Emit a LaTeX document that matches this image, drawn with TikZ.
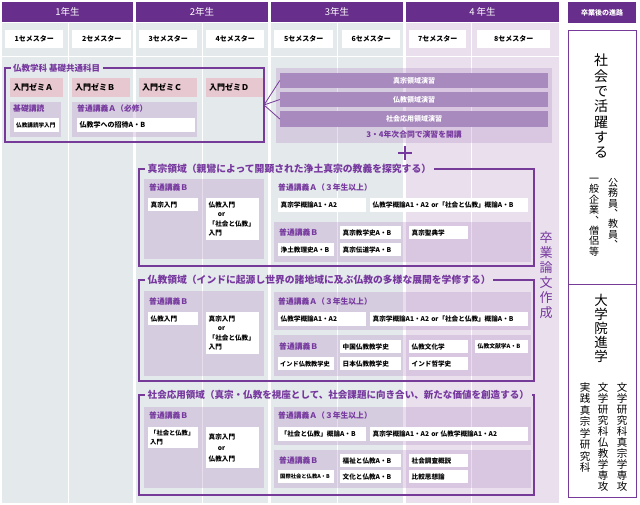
\documentclass[tikz,border=0pt]{standalone}
\usepackage{fontspec}
\setmainfont{Noto Sans CJK JP}
\definecolor{hdr}{RGB}{104,46,140}
\definecolor{lin}{RGB}{118,58,152}
\definecolor{lbc}{RGB}{118,56,158}
\definecolor{grybg}{RGB}{228,233,236}
\definecolor{pplbg}{RGB}{233,223,237}
\definecolor{pnc}{RGB}{181,143,196}
\definecolor{pnk}{RGB}{232,200,208}
\definecolor{barc}{RGB}{168,138,190}

\begin{document}
\begin{tikzpicture}[x=1pt,y=-1pt]

\tikzstyle{yr}=[fill=hdr, text=white, minimum height=20pt, inner sep=0pt, font=\fontsize{9.5}{9.5}\selectfont]
\tikzstyle{sem}=[fill=white, anchor=north west, minimum height=18pt, inner sep=0pt, font=\fontsize{7}{7}\selectfont\bfseries]
\tikzstyle{cell}=[fill=white, anchor=north west, inner xsep=2.5pt, inner ysep=0pt, align=left, font=\fontsize{6.6}{8}\selectfont\bfseries]
\tikzstyle{zemi}=[cell, fill=pnk, inner xsep=3pt, minimum height=19pt, font=\fontsize{8}{9}\selectfont\bfseries]
\tikzstyle{lbl}=[anchor=west, inner sep=0pt, text=lbc, font=\fontsize{7.8}{8}\selectfont\bfseries]
\tikzstyle{ttl}=[anchor=west, inner xsep=2.5pt, inner ysep=0pt, text=lbc, font=\fontsize{9.8}{10}\selectfont\bfseries]
\tikzstyle{pnl}=[fill=pnc, fill opacity=0.3]
\tikzstyle{ol}=[draw=lin, line width=1.1pt]
\tikzstyle{barn}=[fill=barc, text=white, minimum width=268pt, inner sep=0pt, font=\fontsize{7}{7}\selectfont\bfseries]
\tikzstyle{vt}=[anchor=north, align=center, inner sep=0pt]

\useasboundingbox (0,0) rectangle (640,505);

\fill[grybg] (2,23) rectangle (133,503);
\fill[grybg] (136,23) rectangle (268,503);
\fill[grybg] (271,23) rectangle (403,503);
\fill[pplbg] (406,23) rectangle (559,503);
\foreach \x in {68,202,337,471}
  \draw[white, line width=1pt] (\x,23) -- (\x,503);
\draw[white, line width=1pt] (2,57) -- (559,57);

\node (y1) [yr, minimum width=131pt] at (67.5,12) {1年生};
\node (y2) [yr, minimum width=132pt] at (202,12) {2年生};
\node (y3) [yr, minimum width=132pt] at (337,12) {3年生};
\node (y4) [yr, minimum width=153pt] at (482.5,12) {4 年生};
\node (post) [yr, minimum width=68pt, minimum height=21pt, font=\fontsize{7}{7}\selectfont\bfseries] at (602,12.5) {卒業後の進路};

\foreach \i/\x/\w in {1/5/58,2/72/59,3/139/58,4/206/58,5/274/59,6/342/58,7/409/57,8/477/73}
  \node (s\i) [sem, minimum width=\w pt] at (\x,30) {\i セメスター};

\node (fbt) [ttl, font=\fontsize{8.5}{8.5}\selectfont\bfseries] at (10.5,68) {仏教学科 基礎共通科目};
\draw[ol] (fbt.west) -- (5,68) -- (5,142) -- (264,142) -- (264,68) -- (fbt.east);
\coordinate (fbR) at (264,105);

\node (zA) [zemi, text width=47pt] at (10,78) {入門ゼミＡ};
\node (zB) [zemi, text width=52pt] at (72,78) {入門ゼミＢ};
\node (zC) [zemi, text width=52pt] at (139,78) {入門ゼミＣ};
\node (zD) [zemi, text width=51pt] at (206,78) {入門ゼミＤ};

\fill[pnl] (10,102) rectangle (61,137);
\fill[pnl] (72,102) rectangle (197,137);
\node (kd) [lbl] at (13,109) {基礎講読};
\node (pa) [lbl] at (77,109) {普通講義Ａ（必修）};
\node (kd1) [cell, text width=41pt, minimum height=14pt, inner xsep=2pt, font=\fontsize{5.6}{6}\selectfont\bfseries] at (14,118) {仏教講読学入門};
\node (pa1) [cell, text width=113pt, minimum height=14pt, font=\fontsize{7}{8}\selectfont\bfseries] at (77,118) {仏教学への招待A・B};

\fill[pnl] (276,68) rectangle (552,143);
\node (b1) [barn, minimum height=15pt] at (414,80.5) {真宗領域演習};
\node (b2) [barn, minimum height=15pt] at (414,99.5) {仏教領域演習};
\node (b3) [barn, minimum height=16pt] at (414,119) {社会応用領域演習};
\node (jnt) [inner sep=0pt, text=lbc, font=\fontsize{7.8}{8}\selectfont\bfseries] at (414,135) {3・4年次合同で演習を開講};
\draw[draw=lin, line width=0.8pt] (b1.west) -- (fbR);
\draw[draw=lin, line width=0.8pt] (b2.west) -- (fbR);
\draw[draw=lin, line width=0.8pt] (b3.west) -- (fbR);

\draw[lbc, line width=2.6pt] (405,146) -- (405,160) (398,153) -- (412,153);

\node (d1t) [ttl] at (145,169) {真宗領域（親鸞によって開顕された浄土真宗の教義を探究する）};
\draw[ol] (d1t.west) -- (139,169) -- (139,266) -- (534,266) -- (534,169) -- (d1t.east);
\fill[pnl] (144,179) rectangle (264,259);
\fill[pnl] (274,222) rectangle (531,262);
\node (d1b) [lbl] at (149,188) {普通講義Ｂ};
\node (d1a) [lbl] at (278,188) {普通講義Ａ（３年生以上）};
\node (d1bb) [lbl] at (279,233) {普通講義Ｂ};
\node (d1c1) [cell, text width=45pt, minimum height=13pt] at (148,198) {真宗入門};
\node (d1c2) [cell, text width=48pt, minimum height=42pt, font=\fontsize{6.6}{9.5}\selectfont\bfseries] at (206,198) {仏教入門\\\hspace{1.4em}or\\「社会と仏教」\\入門};
\node (d1c3) [cell, text width=83pt, minimum height=14pt] at (278,198) {真宗学概論A1・A2};
\node (d1c4) [cell, text width=153pt, minimum height=14pt] at (370,198) {仏教学概論A1・A2~or「社会と仏教」概論A・B};
\node (d1c5) [cell, text width=56pt, minimum height=13pt] at (340,226) {真宗教学史A・B};
\node (d1c6) [cell, text width=54pt, minimum height=13pt] at (409,226) {真宗聖典学};
\node (d1c7) [cell, text width=51pt, minimum height=13pt] at (278,243) {浄土教理史A・B};
\node (d1c8) [cell, text width=56pt, minimum height=13pt] at (340,243) {真宗伝道学A・B};

\node (d2t) [ttl] at (145,280) {仏教領域（インドに起源し世界の諸地域に及ぶ仏教の多様な展開を学修する）};
\draw[ol] (d2t.west) -- (139,280) -- (139,381) -- (534,381) -- (534,280) -- (d2t.east);
\fill[pnl] (144,291) rectangle (264,376);
\fill[pnl] (274,292) rectangle (531,330);
\fill[pnl] (274,335) rectangle (531,376);
\node (d2b) [lbl] at (149,302) {普通講義Ｂ};
\node (d2a) [lbl] at (278,302) {普通講義Ａ（３年生以上）};
\node (d2bb) [lbl] at (279,347) {普通講義Ｂ};
\node (d2c1) [cell, text width=45pt, minimum height=13pt] at (148,312) {仏教入門};
\node (d2c2) [cell, text width=48pt, minimum height=42pt, font=\fontsize{6.6}{9.5}\selectfont\bfseries] at (206,312) {真宗入門\\\hspace{1.4em}or\\「社会と仏教」\\入門};
\node (d2c3) [cell, text width=83pt, minimum height=14pt] at (278,312) {仏教学概論A1・A2};
\node (d2c4) [cell, text width=153pt, minimum height=14pt] at (370,312) {真宗学概論A1・A2~or「社会と仏教」概論A・B};
\node (d2c5) [cell, text width=56pt, minimum height=13pt] at (340,340) {中国仏教教学史};
\node (d2c6) [cell, text width=54pt, minimum height=13pt] at (409,340) {仏教文化学};
\node (d2c7) [cell, text width=48pt, minimum height=13pt, font=\fontsize{5.8}{7}\selectfont\bfseries] at (475,340) {仏教文献学A・B};
\node (d2c8) [cell, text width=52pt, minimum height=13pt, inner xsep=2pt, font=\fontsize{6.2}{7}\selectfont\bfseries] at (278,357) {インド仏教教学史};
\node (d2c9) [cell, text width=56pt, minimum height=13pt] at (340,357) {日本仏教教学史};
\node (d2c10) [cell, text width=54pt, minimum height=13pt] at (409,357) {インド哲学史};

\node (d3t) [ttl, font=\fontsize{9.55}{10}\selectfont\bfseries] at (145,395) {社会応用領域（真宗・仏教を視座として、社会課題に向き合い、新たな価値を創造する）};
\draw[ol] (d3t.west) -- (139,395) -- (139,495) -- (534,495) -- (534,395) -- (d3t.east);
\fill[pnl] (144,407) rectangle (264,488);
\fill[pnl] (274,407) rectangle (531,445);
\fill[pnl] (274,450) rectangle (531,488);
\node (d3b) [lbl] at (149,416) {普通講義Ｂ};
\node (d3a) [lbl] at (278,416) {普通講義Ａ（３年生以上）};
\node (d3bb) [lbl] at (279,461) {普通講義Ｂ};
\node (d3c1) [cell, text width=46pt, minimum height=21pt, inner xsep=2pt, font=\fontsize{6.3}{8.5}\selectfont\bfseries] at (148,427) {「社会と仏教」\\入門};
\node (d3c2) [cell, text width=48pt, minimum height=41pt, font=\fontsize{6.6}{11}\selectfont\bfseries] at (206,427) {真宗入門\\\hspace{1.4em}or\\仏教入門};
\node (d3c3) [cell, text width=83pt, minimum height=14pt] at (278,427) {「社会と仏教」概論A・B};
\node (d3c4) [cell, text width=153pt, minimum height=14pt] at (370,427) {真宗学概論A1・A2~or~仏教学概論A1・A2};
\node (d3c5) [cell, text width=56pt, minimum height=13pt] at (340,454) {福祉と仏教A・B};
\node (d3c6) [cell, text width=54pt, minimum height=13pt] at (409,454) {社会調査概説};
\node (d3c7) [cell, text width=52pt, minimum height=13pt, inner xsep=2pt, font=\fontsize{5.3}{7}\selectfont\bfseries] at (278,470) {国際社会と仏教A・B};
\node (d3c8) [cell, text width=56pt, minimum height=13pt] at (340,470) {文化と仏教A・B};
\node (d3c9) [cell, text width=54pt, minimum height=13pt] at (409,470) {比較思想論};

\node (sot) [vt, text=lbc, font=\fontsize{13}{15}\selectfont] at (546,231) {卒\\業\\論\\文\\作\\成};

\draw[draw=lin, line width=0.9pt] (568,30) rectangle (636,284);
\draw[draw=lin, line width=0.9pt] (568,284) rectangle (636,497);
\node (act) [vt, font=\fontsize{14}{15.3}\selectfont] at (601,54) {社\\会\\で\\活\\躍\\す\\る};
\node (job1) [vt, font=\fontsize{10}{10.4}\selectfont] at (613,178) {公\\務\\員\\︑\\教\\員\\︑};
\node (job2) [vt, font=\fontsize{10}{10.4}\selectfont] at (594,178) {一\\般\\企\\業\\︑\\僧\\侶\\等};
\node (grad) [vt, font=\fontsize{13.5}{14}\selectfont] at (601,294) {大\\学\\院\\進\\学};
\node (g1) [vt, font=\fontsize{10.5}{11}\selectfont] at (622,382) {文\\学\\研\\究\\科\\真\\宗\\学\\専\\攻};
\node (g2) [vt, font=\fontsize{10.5}{11}\selectfont] at (603,382) {文\\学\\研\\究\\科\\仏\\教\\学\\専\\攻};
\node (g3) [vt, font=\fontsize{10.5}{11.5}\selectfont] at (585,382) {実\\践\\真\\宗\\学\\研\\究\\科};

\end{tikzpicture}
\end{document}
